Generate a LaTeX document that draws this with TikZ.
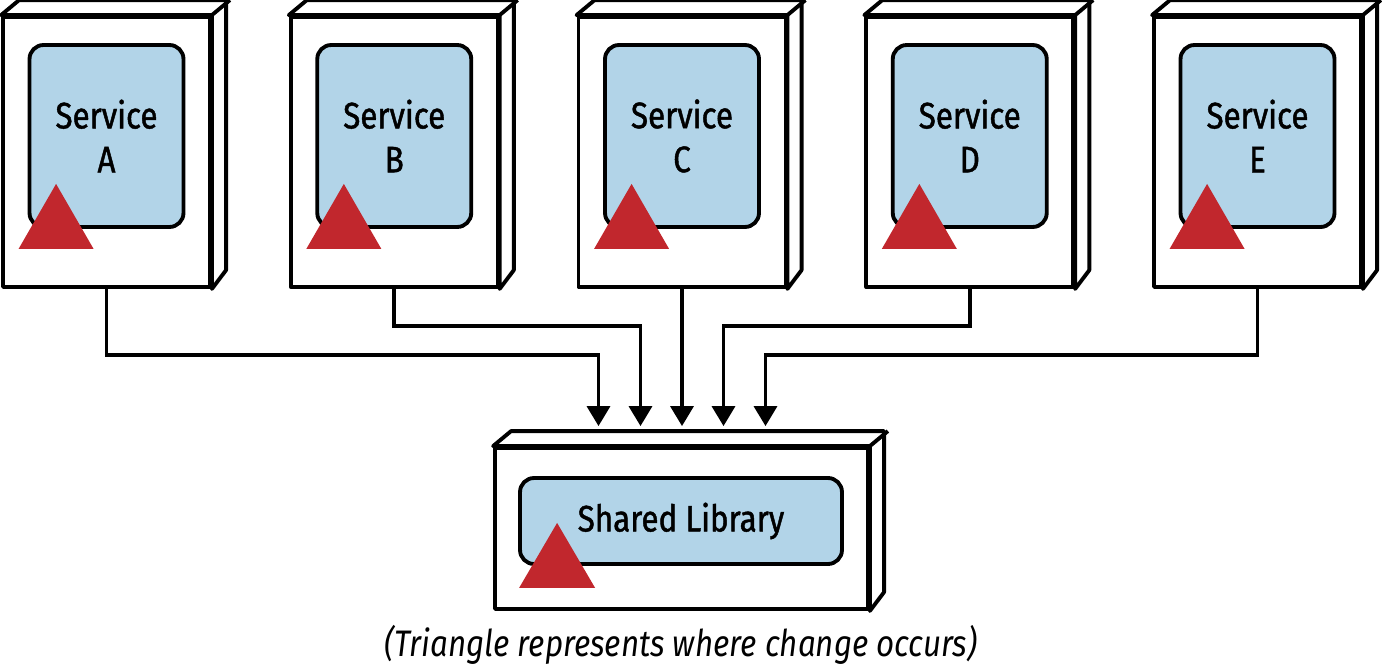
\documentclass[tikz,border=0pt]{standalone}
\usepackage{fontspec}
\setmainfont{Fira Sans}[FakeStretch=0.85]
\newfontfamily\boxfont{Fira Sans}[FakeStretch=0.85,FakeBold=1.2]
\usetikzlibrary{arrows.meta,calc}
\definecolor{svcBlue}{RGB}{178,212,232}
\definecolor{chgRed}{RGB}{193,39,45}

\begin{document}
\begin{tikzpicture}[x=0.02cm,y=-0.02cm,line width=2.2pt,>={Triangle[length=0.4cm,width=0.46cm]},
  front/.style={draw,fill=white,line join=round,inner sep=0pt},
  depth/.style={draw,fill=white,line join=round},
  inner/.style={draw,fill=svcBlue,rounded corners=0.28cm,inner sep=0pt,align=center,font=\boxfont\fontsize{21}{25}\selectfont},
  change/.style={fill=chgRed},
  link/.style={line width=2pt,->}]
\useasboundingbox (0,0) rectangle (1382,669);
% services
\foreach \l [count=\i from 0] in {A,B,C,D,E}{
  \node[front,minimum width=4.14cm,minimum height=5.4cm] (box\l) at (106.5+287.75*\i,152) {};
  \draw[depth] (box\l.north west) -- ++(18,-15) -- ++(207,0) -- ++(0,270) -- (box\l.south east) -- (box\l.north east) -- cycle;
  \draw (box\l.north east) -- ++(18,-15);
  \node[inner,minimum width=3.08cm,minimum height=3.64cm] (svc\l) at ($(box\l.center)+(0,-16)$) {Service\\\l};
  \fill[change] ($(svc\l.south west)+(-9,20)$) -- ++(75,0) -- ++(-37.5,-65) -- cycle;
}
% shared library
\node[front,minimum width=7.46cm,minimum height=3.22cm] (lib) at (681.5,528.5) {};
\draw[depth] (lib.north west) -- ++(18,-15) -- ++(373,0) -- ++(0,161) -- (lib.south east) -- (lib.north east) -- cycle;
\draw (lib.north east) -- ++(18,-15);
\node[inner,minimum width=6.44cm,minimum height=1.72cm] (shlib) at (681,521) {Shared Library};
\fill[change] ($(shlib.south west)+(1,22)$) -- ++(76,0) -- ++(-38,-65) -- cycle;
% arrows into the library
\coordinate (inA) at ($(lib.north)+(-83,-20)$);
\coordinate (inB) at ($(lib.north)+(-41,-20)$);
\coordinate (inC) at ($(lib.north)+(0,-20)$);
\coordinate (inD) at ($(lib.north)+(42,-20)$);
\coordinate (inE) at ($(lib.north)+(84,-20)$);
\draw[link] (boxA.south) -- ++(0,66) -| (inA);
\draw[link] (boxB.south) -- ++(0,37) -| (inB);
\draw[link] (boxC.south) -- (boxC.south |- inC);
\draw[link] (boxD.south) -- ++(0,37) -| (inD);
\draw[link] (boxE.south) -- ++(0,66) -| (inE);
\node[font=\itshape\fontsize{21}{25}\selectfont] (note) at (681,645) {(Triangle represents where change occurs)};
\end{tikzpicture}
\end{document}
